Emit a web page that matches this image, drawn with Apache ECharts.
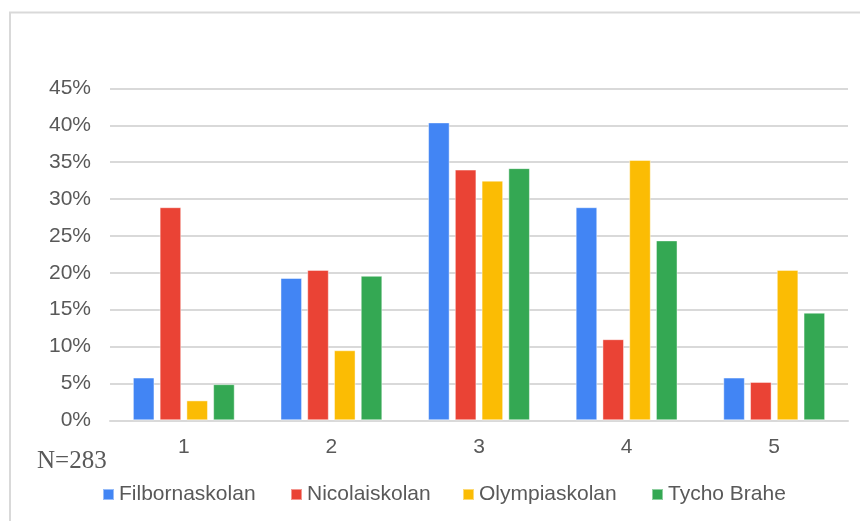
<!DOCTYPE html>
<html>
<head>
<meta charset="utf-8">
<script src="https://cdn.jsdelivr.net/npm/echarts@6/dist/echarts.min.js"></script>
<style>
html,body{margin:0;padding:0;background:#fff;}
#chart{width:860px;height:521px;}
</style>
</head>
<body>
<div id="chart"></div>
<script>
const categories = ['1', '2', '3', '4', '5'];
const seriesNames = ['Filbornaskolan', 'Nicolaiskolan', 'Olympiaskolan', 'Tycho Brahe'];
const filbornaskolan = [5.8, 19.3, 40.4, 28.9, 5.8];
const nicolaiskolan = [28.9, 20.4, 34.0, 11.0, 5.2];
const olympiaskolan = [2.7, 9.5, 32.5, 35.3, 20.4];
const tychoBrahe = [4.9, 19.6, 34.2, 24.4, 14.6];
const colors = ['#4285F4', '#EA4335', '#FBBC04', '#34A853'];
const noteText = 'N=283';

const values = [filbornaskolan, nicolaiskolan, olympiaskolan, tychoBrahe];
const legendLefts = [102, 290, 462, 651];
const chart = echarts.init(document.getElementById('chart'));
const labelColor = '#595959';
const sans = 'Liberation Sans, Arial, sans-serif';
chart.setOption({
  animation: false,
  color: colors,
  grid: {left: 110, right: 12, top: 88.5, bottom: 100.7, containLabel: false},
  legend: seriesNames.map((n, i) => ({
    data: [n],
    left: legendLefts[i], top: 484, padding: 0,
    icon: 'rect', itemWidth: 11, itemHeight: 11, itemGap: 0,
    textStyle: {color: labelColor, fontSize: 21, fontFamily: sans}
  })),
  xAxis: {
    type: 'category', data: categories,
    axisLine: {lineStyle: {color: '#d9d9d9', width: 2}},
    axisTick: {show: false},
    axisLabel: {color: labelColor, fontSize: 21, margin: 16, fontFamily: sans}
  },
  yAxis: {
    type: 'value', min: 0, max: 45, interval: 5,
    axisLine: {show: false}, axisTick: {show: false},
    splitLine: {lineStyle: {color: '#d9d9d9', width: 2}},
    axisLabel: {color: labelColor, fontSize: 21, margin: 19, formatter: '{value}%', fontFamily: sans}
  },
  graphic: [
    {type: 'rect', shape: {x: 10, y: 12.5, width: 900, height: 600}, style: {fill: 'none', stroke: '#d9d9d9', lineWidth: 2}, silent: true},
    {type: 'text', left: 37, top: 449, style: {text: noteText, fill: labelColor, font: '25px "Liberation Serif", "Times New Roman", serif'}}
  ],
  series: seriesNames.map((n, i) => ({
    name: n, type: 'bar', data: values[i],
    barCategoryGap: '31%', barGap: '24%',
    itemStyle: {color: colors[i], borderColor: 'rgba(255,255,255,0.45)', borderWidth: 1}
  }))
});
</script>
</body>
</html>
